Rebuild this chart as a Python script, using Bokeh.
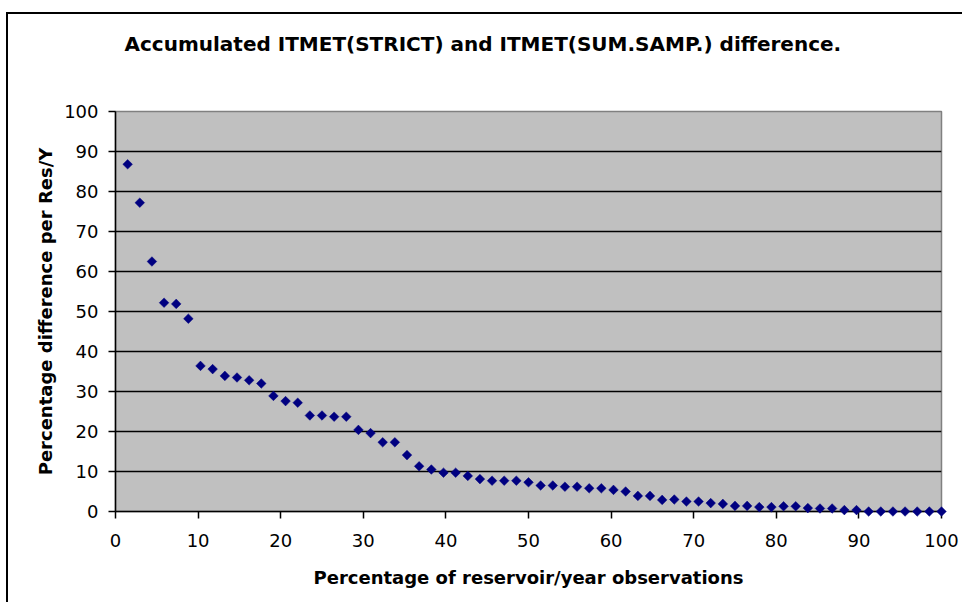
import math
from bokeh.plotting import figure
from bokeh.models import Range1d, FixedTicker, Title
from bokeh.embed import file_html
from bokeh.resources import INLINE

# share of reservoir/year observations (%)
x_pct = [1.47, 2.94, 4.41, 5.88, 7.35, 8.82, 10.29, 11.76, 13.24, 14.71,
         16.18, 17.65, 19.12, 20.59, 22.06, 23.53, 25.00, 26.47, 27.94, 29.41,
         30.88, 32.35, 33.82, 35.29, 36.76, 38.24, 39.71, 41.18, 42.65, 44.12,
         45.59, 47.06, 48.53, 50.00, 51.47, 52.94, 54.41, 55.88, 57.35, 58.82,
         60.29, 61.76, 63.24, 64.71, 66.18, 67.65, 69.12, 70.59, 72.06, 73.53,
         75.00, 76.47, 77.94, 79.41, 80.88, 82.35, 83.82, 85.29, 86.76, 88.24,
         89.71, 91.18, 92.65, 94.12, 95.59, 97.06, 98.53, 100.00]

# percentage difference per Res/Y
y_diff = [86.8, 77.2, 62.5, 52.2, 51.9, 48.2, 36.4, 35.6, 33.9, 33.5,
          32.8, 32.0, 28.9, 27.6, 27.2, 24.0, 24.0, 23.7, 23.7, 20.4,
          19.6, 17.3, 17.3, 14.1, 11.3, 10.5, 9.7, 9.7, 8.9, 8.1,
          7.7, 7.7, 7.7, 7.3, 6.5, 6.5, 6.2, 6.2, 5.8, 5.8,
          5.4, 5.0, 3.9, 3.9, 2.9, 3.0, 2.5, 2.5, 2.1, 1.9,
          1.4, 1.4, 1.1, 1.1, 1.3, 1.3, 0.85, 0.75, 0.75, 0.35,
          0.35, 0.0, 0.0, 0.0, 0.0, 0.0, 0.0, 0.0]

x_ticks = [0, 10, 20, 30, 40, 50, 60, 70, 80, 90, 100]
y_ticks = [0, 10, 20, 30, 40, 50, 60, 70, 80, 90, 100]

title_text = "Accumulated ITMET(STRICT) and ITMET(SUM.SAMP.) difference."
x_title = "Percentage of reservoir/year observations"
y_title = "Percentage difference per Res/Y"

FONT = "DejaVu Sans"

p = figure(width=962, height=602, output_backend="svg", toolbar_location=None,
           x_range=Range1d(0, 100), y_range=Range1d(0, 100),
           min_border_left=115, min_border_right=21,
           min_border_top=111, min_border_bottom=91)

# chart-area frame lines (left and top edges) drawn behind a transparent canvas
p.border_fill_color = None
p.styles = {
    "background": ("linear-gradient(#000, #000) 6px 12px / 2px calc(100% - 12px) no-repeat, "
                   "linear-gradient(#000, #000) 6px 12px / calc(100% - 6px) 2px no-repeat, "
                   "#ffffff"),
}

# spacer nearest the frame, then the real title above it
spacer = Title(text=" ", text_font=FONT, text_font_size="2px", standoff=52)
p.add_layout(spacer, "above")
t = Title(text=title_text, align="left", offset=9,
          text_font=FONT, text_font_size="20px", text_font_style="bold",
          text_color="black", standoff=0)
p.add_layout(t, "above")

p.background_fill_color = "#C0C0C0"
p.outline_line_color = "#808080"
p.outline_line_width = 1.5

p.xgrid.visible = False
p.ygrid.ticker = FixedTicker(ticks=y_ticks)
p.ygrid.grid_line_color = "black"
p.ygrid.grid_line_width = 1.5

for ax in (p.xaxis[0], p.yaxis[0]):
    ax.axis_line_color = "black"
    ax.axis_line_width = 1.5
    ax.major_tick_line_color = "black"
    ax.major_tick_line_width = 1.5
    ax.major_tick_in = 0
    ax.major_tick_out = 7
    ax.minor_tick_line_color = None
    ax.major_label_text_font = FONT
    ax.major_label_text_font_size = "18px"
    ax.major_label_text_color = "black"
    ax.axis_label_text_font = FONT
    ax.axis_label_text_font_size = "18px"
    ax.axis_label_text_font_style = "bold"
    ax.axis_label_text_color = "black"

p.xaxis[0].ticker = FixedTicker(ticks=x_ticks)
p.yaxis[0].ticker = FixedTicker(ticks=y_ticks)
p.xaxis[0].axis_label = x_title
p.yaxis[0].axis_label = y_title
p.xaxis[0].major_label_standoff = 15
p.xaxis[0].axis_label_standoff = 17
p.yaxis[0].major_label_standoff = 10
p.yaxis[0].axis_label_standoff = 5

r = p.scatter(x_pct, y_diff, marker="square", angle=math.pi / 4, size=6.8,
              fill_color="#000080", line_color="#000080", line_width=0.5)
r.level = "overlay"

open("out.html", "w").write(file_html(p, INLINE))
